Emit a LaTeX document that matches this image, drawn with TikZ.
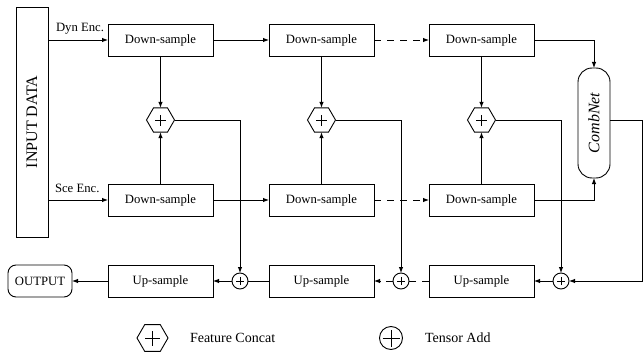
\documentclass[tikz,border=0pt]{standalone}
\usepackage{fontspec}
\setmainfont{Liberation Serif}
\usetikzlibrary{arrows.meta,shapes.geometric}
\begin{document}
\begin{tikzpicture}[x=1pt,y=-1pt,
  line width=0.9pt,
  >={Latex[length=6pt,width=4.5pt]},
  every node/.style={font=\fontsize{12.7}{14}\selectfont, inner sep=0pt, outer sep=0pt},
  blockbox/.style={draw, minimum width=105pt, minimum height=32pt},
  concat/.style={draw, regular polygon, regular polygon sides=6, minimum size=28pt},
  addnode/.style={draw, circle, minimum size=16pt},
  dashline/.style={dash pattern=on 7pt off 6pt},
  plusmark/.style={line width=0.6pt},
]
\useasboundingbox (0,0) rectangle (643,353);

% input column
\node[draw, minimum width=32pt, minimum height=230pt] (in) at (32,122)
  {\rotatebox{90}{\fontsize{16}{18}\selectfont INPUT DATA}};

% encoder rows
\foreach \i/\x in {1/160.5, 2/321.5, 3/481.5} {
  \node[blockbox] (d\i) at (\x,40) {Down-sample};
  \node[blockbox] (s\i) at (\x,200) {Down-sample};
  \node[blockbox] (u\i) at (\x,281) {Up-sample};
  \node[concat] (h\i) at (\x,120) {};
  \draw[plusmark] ([xshift=-5.5pt]h\i.center) -- ([xshift=5.5pt]h\i.center)
                  ([yshift=-5.5pt]h\i.center) -- ([yshift=5.5pt]h\i.center);
}

% tensor add nodes
\foreach \i/\x in {1/240, 2/401, 3/561} {
  \node[addnode] (a\i) at (\x,281) {};
  \draw[plusmark] ([xshift=-4pt]a\i.center) -- ([xshift=4pt]a\i.center)
                  ([yshift=-4pt]a\i.center) -- ([yshift=4pt]a\i.center);
}

% combination network
\node[draw, rounded corners=14pt, minimum width=32pt, minimum height=110pt] (cn) at (594,123)
  {\rotatebox{90}{\fontsize{16}{18}\selectfont\itshape CombNet}};

% output
\node[draw, rounded corners=8pt, minimum width=64pt, minimum height=32pt] (out) at (40,281) {OUTPUT};

% labels
\node[anchor=base west] (dyn) at (56,32) {Dyn Enc.};
\node[anchor=base west] (sce) at (55,192) {Sce Enc.};

% encoder connections
\draw[->] (in.east |- d1.west) -- (d1.west);
\draw[->] (in.east |- s1.west) -- (s1.west);
\draw[->] (d1.east) -- (d2.west);
\draw[->] (s1.east) -- (s2.west);
\draw[->, dashline] (d2.east) -- (d3.west);
\draw[->, dashline] (s2.east) -- (s3.west);
\foreach \i in {1,2,3} {
  \draw[->] (d\i.south) -- (h\i.north);
  \draw[->] (s\i.north) -- (h\i.south);
  \draw[->] (h\i.east) -- (a\i.north |- h\i.east) -- (a\i.north);
}

% into and out of the combination network
\draw[->] (d3.east) -- (cn.north |- d3.east) -- (cn.north);
\draw[->] (s3.east) -- (cn.south |- s3.east) -- (cn.south);
\coordinate (rt) at (642,120);
\draw[->] (cn.east |- rt) -- (rt) -- (rt |- a3.east) -- (a3.east);

% decoder connections
\draw[->] (a3.west) -- (u3.east);
\draw[dashline] (u3.west) -- (a2.east);
\draw[->, dashline] (a2.west) -- (u2.east);
\draw (u2.west) -- (a1.east);
\draw[->] (a1.west) -- (u1.east);
\draw[->] (u1.west) -- (out.east);

% legend
\node[concat, minimum size=31pt] (lh) at (152.5,338) {};
\draw[plusmark] ([xshift=-7.5pt]lh.center) -- ([xshift=7.5pt]lh.center)
                ([yshift=-7.5pt]lh.center) -- ([yshift=7.5pt]lh.center);
\node[anchor=west, font=\fontsize{14}{16}\selectfont] (lht) at (190,338) {Feature Concat};
\node[addnode, minimum size=23pt] (la) at (391,338) {};
\draw[plusmark] ([xshift=-8.5pt]la.center) -- ([xshift=8.5pt]la.center)
                ([yshift=-8.5pt]la.center) -- ([yshift=8.5pt]la.center);
\node[anchor=west, font=\fontsize{14}{16}\selectfont] (lat) at (425,338) {Tensor Add};
\end{tikzpicture}
\end{document}
